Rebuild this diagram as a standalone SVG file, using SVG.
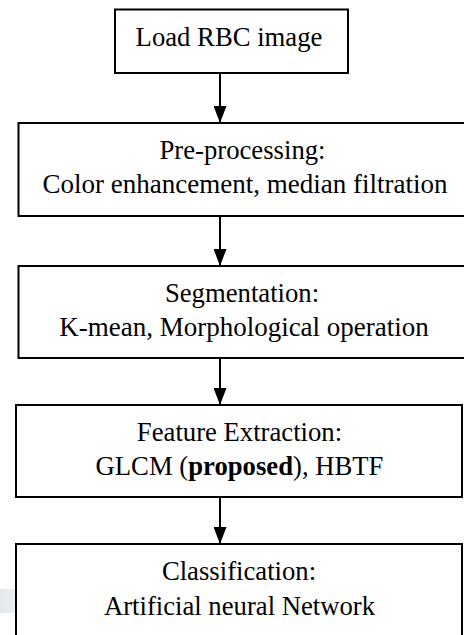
<svg xmlns="http://www.w3.org/2000/svg" width="464" height="635" viewBox="0 0 464 635">
  <style>
    .box { fill: #ffffff; stroke: #000000; stroke-width: 2; }
    .label { font-family: 'Liberation Serif', 'DejaVu Serif', serif; font-size: 26.7px; fill: #000000; text-anchor: middle; }
    .wide { font-size: 27px; }
    .edge { stroke: #000000; stroke-width: 2; fill: none; }
  </style>
  <defs>
    <marker id="arrowhead" markerWidth="17" markerHeight="13" refX="17" refY="6.5" orient="auto" markerUnits="userSpaceOnUse" viewBox="0 0 17 13">
      <path d="M0,0 L17,6.5 L0,13 Z" fill="#000000"/>
    </marker>
    <linearGradient id="haze" x1="0" y1="0" x2="1" y2="0">
      <stop offset="0" stop-color="#e3e7eb"/>
      <stop offset="1" stop-color="#eef0f2" stop-opacity="0.4"/>
    </linearGradient>
  </defs>
  <rect x="0" y="0" width="464" height="635" fill="#ffffff"/>
  <!-- faint grey mark at the lower left margin -->
  <rect x="0" y="589" width="40" height="24" fill="url(#haze)"/>

  <g id="connectors">
    <line class="edge" x1="220" y1="73" x2="220" y2="123" marker-end="url(#arrowhead)"/>
    <line class="edge" x1="220" y1="216" x2="220" y2="266" marker-end="url(#arrowhead)"/>
    <line class="edge" x1="220" y1="358" x2="220" y2="405" marker-end="url(#arrowhead)"/>
    <line class="edge" x1="220" y1="497" x2="220" y2="544" marker-end="url(#arrowhead)"/>
  </g>

  <g id="load-image">
    <rect class="box" x="115" y="9.5" width="233" height="63.5"/>
    <text class="label" x="229" y="46">Load RBC image</text>
  </g>

  <g id="pre-processing">
    <rect class="box" x="18.5" y="123" width="460" height="93"/>
    <text class="label" x="242.5" y="159">Pre-processing:</text>
    <text class="label wide" x="245" y="193">Color enhancement, median filtration</text>
  </g>

  <g id="segmentation">
    <rect class="box" x="18.5" y="266" width="460" height="92"/>
    <text class="label" x="242" y="302">Segmentation:</text>
    <text class="label wide" x="244" y="336">K-mean, Morphological operation</text>
  </g>

  <g id="feature-extraction">
    <rect class="box" x="16" y="405" width="446" height="92"/>
    <text class="label" x="239.5" y="441">Feature Extraction:</text>
    <text class="label" x="239.5" y="475">GLCM (<tspan font-weight="bold">proposed</tspan>), HBTF</text>
  </g>

  <g id="classification">
    <rect class="box" x="16" y="544" width="446" height="100"/>
    <text class="label" x="239" y="580">Classification:</text>
    <text class="label" x="239.5" y="615">Artificial neural Network</text>
  </g>
</svg>
